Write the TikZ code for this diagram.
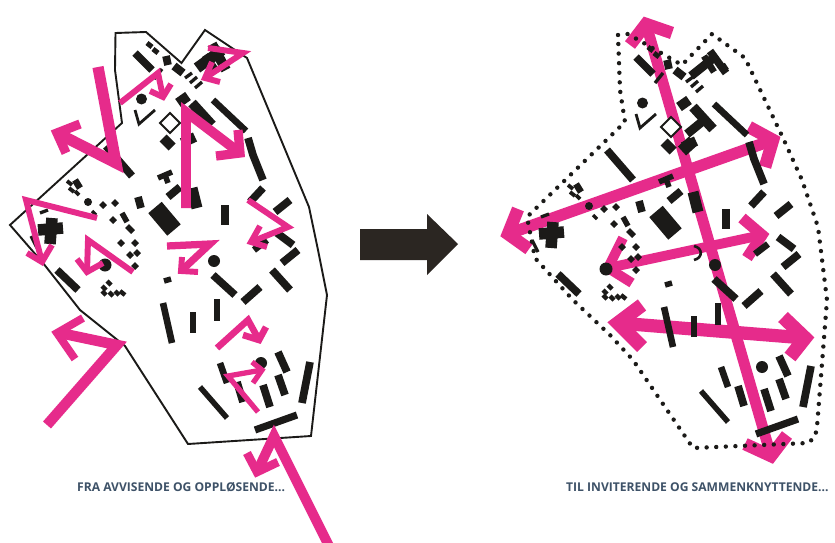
\documentclass[tikz,border=0pt]{standalone}
\usepackage{fontspec}
\setsansfont{Open Sans}
\definecolor{hotpink}{HTML}{E62B8B}
\definecolor{inkblack}{HTML}{1B1A18}
\definecolor{darkarrow}{HTML}{2B2622}
\definecolor{caption}{HTML}{3E5268}
\tikzset{
  pink/.style={draw=hotpink,line width=1.32*#1,miter limit=20,line join=miter,line cap=butt},
  pink/.default=5pt,
  block/.style={draw=inkblack,line width=1.1*#1,line cap=butt,line join=round},
  block/.default=7pt,
  caplabel/.style={font=\sffamily\bfseries\fontsize{12.1}{13}\selectfont,text=caption,inner sep=0pt,anchor=west},
}
\newcommand{\planblocks}{%
  \foreach \w/\a/\b/\c/\d in {
    7/135/53/152/70, 4.5/147/43/152/47, 4.5/153/49/158/53, 7/166/56/168/65, 7.5/174/66/183/73,
    3/185/78/192/73, 3/190/83/197/77, 3/195/88/202/82, 3/154/79/162/69,
    9/178/103/188/96, 9/192/103/212/125, 9/163/138/172/147, 9/182/143/195/137,
    5/158/178/172/172, 5/165/175/168/183, 7/168/197/180/187, 10/192/188/197/208,
    16/155/207.5/174/230, 7/138/197/141/208, 7/106/146/132/176, 7/225/205/225/225,
    7/250/202/263/188, 7/275/212/290/200, 7/277/233/293/245, 6/254/250/267/240,
    7/282/263/298/250,
    6/75/180/80/188, 3.5/67/181/72/185, 3.5/69/188/74/192, 3.5/75/191/79/195,
    5/119/241/123/245, 5/133/241/137/245, 5/128/253/132/257, 5/135/251/139/255, 5/133/264/137/268,
    5/101/203/105/207, 5/113/201/117/205, 5/111/218/115/222, 5/122/213/127/222, 5/127/226/133/232,
    3/92/211/96/215, 10.5/38/230/63/228, 10.5/52/218/50/244, 3/31/236/37/248, 3/40/213/48/210,
    7/57/270/78/290,
    4/107/281/111/285, 4/102/286/106/290, 4/109/292/113/296, 4/102/291/106/295, 4/115/291/119/295, 4/120/291/125/295,
    5/164/281/171/279, 7/213/275/235/295, 7/243/302/260/287, 7/272/270/290/290,
    6/163/303/172/343, 6/193/312/193/333, 6/217/299/217/321,
    6/220/363/227/383, 7/237/382/243/402, 7/263/385/270/407, 7/278/375/285/395,
    7/278/352/287/372, 7/310/362/302/403, 5/200/387/227/418, 6.5/255/430/297/415
  }{\draw[block=\w pt] (\a,\b) -- (\c,\d);}
  \draw[block=6pt] (213,100) -- (230,116) -- (246,131);
  \draw[block=7pt] (248,138) -- (253,155) -- (263,180);
  \fill[inkblack] (141.5,99) circle (5.5) (88,202) circle (4) (105,265) circle (6.5)
                  (214,261) circle (6) (261,363) circle (6);
  \draw[inkblack,line width=2.8pt,line join=miter] (135,110) -- (139,124) -- (155,110);
  \draw[inkblack,line width=2pt,fill=white] (170,113) -- (180,123) -- (170,133) -- (160,123) -- cycle;
}
\begin{document}
\begin{tikzpicture}[x=1pt,y=-1pt]
\path[use as bounding box,clip] (0,0) rectangle (835,543);
\fill[white] (0,0) rectangle (835,543);

% LEFT plan
\planblocks
\draw[block=10pt] (197,68) -- (222,50);
\draw[block=9pt] (212,44) -- (226,70);
\draw[block=7pt] (205,55) -- (215,70);
\draw[inkblack,line width=1.9pt,line join=miter]
  (115.5,33) -- (146,32) -- (181.5,63) -- (205,30) -- (247,58) -- (309,207) -- (318,250)
  -- (327,295) -- (311,436) -- (188,444) -- (125,346) -- (80,310) -- (43,263) -- (10,225)
  -- (122,123) -- (115,70) -- cycle;

% LEFT arrows
\draw[pink=8.5pt] (98,67) -- (116,163) -- (57,133);
\draw[pink=7pt] (80,124) -- (57,133) -- (66,153);
\draw[pink=4.5pt] (120,103) -- (158,73) -- (163,97);
\draw[pink=4.5pt] (150,91) -- (163,97) -- (171,84);
\draw[pink=4.5pt] (208,48) -- (243,53) -- (205,78);
\draw[pink=4.5pt] (212,62) -- (205,78) -- (220,82);
\draw[pink=7.5pt] (186,208) -- (186,112) -- (240,153);
\draw[pink=7pt] (238,130) -- (240,153) -- (216,156);
\draw[pink=4.5pt] (248,200) -- (288,227) -- (251,242);
\draw[pink=4.5pt] (260,226) -- (251,242) -- (267,247);
\draw[pink=5.5pt] (167,246) -- (210,244) -- (181,271);
\draw[pink=4.5pt] (182,257) -- (181,271) -- (198,272);
\draw[pink=4.5pt] (97,218) -- (26,200) -- (42,262);
\draw[pink=4.5pt] (27,253) -- (42,262) -- (52,245);
\draw[pink=4.5pt] (133,272) -- (88,240) -- (87,272);
\draw[pink=4.5pt] (77,259) -- (87,272) -- (103,263);
\draw[pink=8pt] (47,425) -- (117,345) -- (60,333);
\draw[pink=6pt] (83,318) -- (57,333) -- (75,359);
\draw[pink=5pt] (217,348) -- (248,320) -- (259,340);
\draw[pink=5pt] (243,335) -- (259,340) -- (266,327);
\draw[pink=4pt] (258,412) -- (228,376) -- (262,370);
\draw[pink=4pt] (252,362) -- (262,370) -- (253,383);
\draw[pink=7.5pt] (331,550) -- (274,436) -- (257,472);
\draw[pink=6.5pt] (247,453) -- (257,472) -- (278,462);

% Centre arrow
\fill[darkarrow] (360,229) -- (427,229) -- (427,214) -- (458,244) -- (427,275) -- (427,260) -- (360,260) -- cycle;

% RIGHT arrows, under the blocks
\draw[pink=8.3pt] (646,24) -- (771,456);
\draw[pink=9.5pt] (630,45) -- (646,24) -- (672,33);
\draw[pink=9.5pt] (745,444) -- (771,456) -- (787,435);
\draw[pink=8.8pt] (508,234) -- (773,140);
\draw[pink=9.5pt] (518,209) -- (508,234) -- (529,249);
\draw[pink=9.5pt] (749,127) -- (773,140) -- (765,167);
\draw[pink=7.5pt] (608,268) -- (762,235);
\draw[pink=7.5pt] (623,238) -- (608,268) -- (632,283);
\draw[pink=8.5pt] (742,218) -- (762,235) -- (747,258);
\draw[pink=10pt] (618,323) -- (805,338);
\draw[pink=10.5pt] (642,305) -- (618,323) -- (642,347);
\draw[pink=10.5pt] (783,317) -- (805,338) -- (790,357);

% RIGHT plan
\begin{scope}[shift={(501,4)}]
\planblocks
\draw[block=8pt] (190,72) -- (215,52);
\draw[block=7pt] (209,47) -- (225,69);
\draw[block=6pt] (203,52) -- (213,68);
\draw[block=4pt] (222,60) -- (226,66);
\draw[block=8pt] (186,130) -- (202,117);
\draw[block=11pt] (181,147) -- (192,137);
\draw[inkblack,line width=2.6pt] (193,242) .. controls (202,244) and (202,254) .. (193,256);
\end{scope}
\draw[inkblack,line width=4.4pt,line cap=round,dash pattern=on 0pt off 9.6pt]
  (618,35) -- (628,34) -- (682,65) -- (712,34) -- (745,58) -- (783,138) -- (802,180)
  -- (818,227) -- (827,300) -- (817,427) -- (815,437) -- (808,443) -- (693,448) -- (633,360)
  -- (610,335) -- (573,300) -- (535,258) -- (527,217) -- (625,122) -- (620,90) -- cycle;

% Captions
\node[caplabel] (leftcap) at (77,487.5) {FRA AVVISENDE OG OPPLØSENDE...};
\node[caplabel] (rightcap) at (566,487.5) {TIL INVITERENDE OG SAMMENKNYTTENDE...};
\end{tikzpicture}
\end{document}
